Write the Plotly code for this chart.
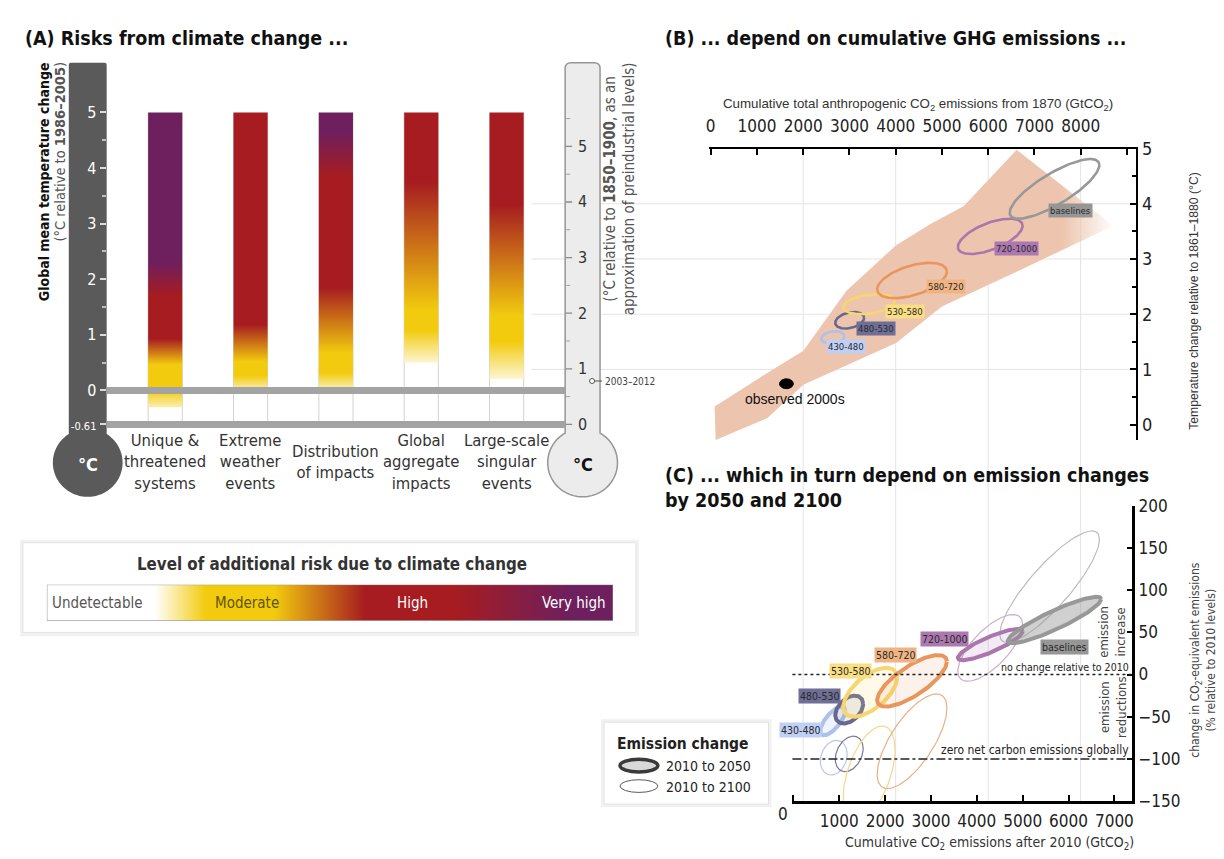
import numpy as np
import plotly.graph_objects as go

W, H = 1224, 859


def px(v):
    return v / W


def py(v):
    return 1 - v / H


FONT_N = "Liberation Sans Narrow, DejaVu Sans Condensed, Roboto Condensed, Roboto, sans-serif"
FONT_S = "Liberation Sans, Arial, Helvetica, sans-serif"

# ---------------- (A) risk level per reason for concern ----------------
RFC_NAMES = ["Unique &<br>threatened<br>systems", "Extreme<br>weather<br>events",
             "Distribution<br>of impacts", "Global<br>aggregate<br>impacts",
             "Large-scale<br>singular<br>events"]
# temperature (degC relative to 1986-2005) at which each risk level is reached
UNIQUE_TEMPS = [-0.3, 0.15, 0.6, 1.05, 1.8, 2.4, 5.0]
UNIQUE_LEVELS = ["U", "M", "M", "H", "H", "V", "V"]
EXTREME_TEMPS = [0.05, 0.4, 0.65, 1.3, 5.0]
EXTREME_LEVELS = ["U", "M", "M", "H", "H"]
DISTRIB_TEMPS = [0.05, 0.45, 0.8, 1.95, 3.9, 4.7, 5.0]
DISTRIB_LEVELS = ["U", "M", "M", "H", "H", "V", "V"]
GLOBAL_TEMPS = [0.5, 1.2, 1.55, 3.8, 5.0]
GLOBAL_LEVELS = ["U", "M", "M", "H", "H"]
SINGULAR_TEMPS = [0.2, 1.0, 1.45, 3.4, 5.0]
SINGULAR_LEVELS = ["U", "M", "M", "H", "H"]
RFC_TEMPS = [UNIQUE_TEMPS, EXTREME_TEMPS, DISTRIB_TEMPS, GLOBAL_TEMPS, SINGULAR_TEMPS]
RFC_LEVELS = [UNIQUE_LEVELS, EXTREME_LEVELS, DISTRIB_LEVELS, GLOBAL_LEVELS, SINGULAR_LEVELS]
BAR_TOP = 5.0
BASELINE_1986_2005 = 0.0
BASELINE_1850_1900 = -0.61          # preindustrial zero on the 1986-2005 scale
PREIND_TICKS = [0, 1, 2, 3, 4, 5]   # degC relative to 1850-1900
WARMING_2003_2012 = 0.78            # relative to 1850-1900

RISK_NAMES = ["Undetectable", "Moderate", "High", "Very high"]
RISK_SCALE_POS = [0.0, 0.19, 0.28, 0.40, 0.56, 0.72, 0.92, 1.0]
RISK_SCALE_LEVELS = ["U", "U", "M", "M", "H", "H", "V", "V"]
RISK_COLOR = {"U": "rgb(255,255,255)", "M": "rgb(242,203,14)",
              "H": "rgb(166,28,32)", "V": "rgb(110,31,94)"}

# ---------------- (B) cumulative emissions vs warming ----------------
PLUME_X = [86, 1078, 2004, 2931, 4009, 4763, 5474, 6616,
           8707, 6616, 5000, 4009, 2004, 1228, 108]
PLUME_Y = [0.33, 0.86, 1.34, 2.42, 3.25, 3.64, 3.96, 4.98,
           3.60, 2.77, 2.14, 1.48, 0.72, 0.12, -0.28]
OBS_X, OBS_Y = 1638, 0.74

SCENARIOS = ["430-480", "480-530", "530-580", "580-720", "720-1000", "baselines"]
B_CX = [2640, 3006, 3426, 4354, 6045, 7435]
B_CY = [1.58, 1.89, 2.18, 2.61, 3.41, 4.27]
B_RX = [250, 312, 560, 754, 700, 970]
B_RY = [0.11, 0.15, 0.18, 0.32, 0.32, 0.54]
B_RHO = [0.2, 0.3, 0.3, 0.5, 0.6, 0.8]
B_TAG_X = [2931, 3578, 4203, 5086, 6616, 7780]
B_TAG_Y = [1.41, 1.74, 2.04, 2.50, 3.19, 3.87]

# ---------------- (C) emission change by 2050 / 2100 ----------------
C50_CX = [858, 1217, 1674, 2587, 4293, 5695]
C50_CY = [-55, -41.5, -21, -7.5, 35.5, 64.5]
C50_RX = [272, 304, 587, 761, 707, 1020]
C50_RY = [17, 16.5, 29, 30.5, 18.5, 27.5]
C50_RHO = [0.7, 0.4, 0.6, 0.75, 0.85, 0.9]
C100_CX = [880, 1217, 1652, 2587, 4293, 5587]
C100_CY = [-98.5, -94, -117, -79, 31.5, 104]
C100_RX = [293, 304, 565, 761, 707, 1087]
C100_RY = [20.5, 21, 56, 56, 39.5, 66]
C100_RHO = [0.2, 0.3, 0.5, 0.7, 0.7, 0.85]
C_TAG_X = [152, 565, 1239, 2217, 3304, 5913]
C_TAG_Y = [-66, -25, 4.6, 23, 41.5, 33]
NO_CHANGE = 0
ZERO_NET = -100

B_TICKS_X = [0, 1000, 2000, 3000, 4000, 5000, 6000, 7000, 8000, 9000]
B_TICKS_Y = [0, 1, 2, 3, 4, 5]
C_TICKS_X = [0, 1000, 2000, 3000, 4000, 5000, 6000, 7000]
C_TICKS_Y = [-150, -100, -50, 0, 50, 100, 150, 200]

# scenario colours: outline, label tag, thin 2100 outline, 2050 fill
LINE_COL = ["rgb(172,194,236)", "rgb(104,104,142)", "rgb(246,214,110)",
            "rgb(233,150,92)", "rgb(170,118,172)", "rgb(152,152,152)"]
TAG_COL = ["rgb(192,208,244)", "rgb(110,110,150)", "rgb(250,222,132)",
           "rgb(240,180,132)", "rgb(172,120,176)", "rgb(150,150,150)"]
THIN_COL = ["rgb(185,198,236)", "rgb(120,120,150)", "rgb(245,214,140)",
            "rgb(232,176,136)", "rgb(204,172,204)", "rgb(188,188,188)"]
FILL_COL = ["rgba(172,194,236,0.18)", "rgba(104,104,142,0.12)", "rgba(246,214,110,0.15)",
            "rgba(233,150,92,0.12)", "rgba(170,118,172,0.15)", "rgba(150,150,150,0.45)"]
PLUME_COL = "rgb(237,197,174)"
PLUME_COL0 = "rgba(237,197,174,0)"


def ellipse(cx, cy, rx, ry, rho, n=140):
    t = np.linspace(0, 2 * np.pi, n)
    x = cx + rx * np.cos(t)
    y = cy + ry * (rho * np.cos(t) + np.sqrt(1 - rho ** 2) * np.sin(t))
    return x, y


def thermo_path(x_l, x_r, top, cy, r, corner):
    cx = (x_l + x_r) / 2
    half = (x_r - x_l) / 2
    dy = np.sqrt(r ** 2 - half ** 2)
    jy = cy - dy
    seg = [f"M{px(x_l):.5f},{py(jy):.5f}",
           f"L{px(x_l):.5f},{py(top + corner):.5f}",
           f"Q{px(x_l):.5f},{py(top):.5f} {px(x_l + corner):.5f},{py(top):.5f}",
           f"L{px(x_r - corner):.5f},{py(top):.5f}",
           f"Q{px(x_r):.5f},{py(top):.5f} {px(x_r):.5f},{py(top + corner):.5f}",
           f"L{px(x_r):.5f},{py(jy):.5f}"]
    th0 = np.degrees(np.arctan2(-dy, half))
    for th in np.radians(np.linspace(th0, 180 - th0, 90)):
        seg.append(f"L{px(cx + r * np.cos(th)):.5f},{py(cy + r * np.sin(th)):.5f}")
    seg.append("Z")
    return " ".join(seg)


fig = go.Figure()
HW = 0.2  # half bar width in category units

# ---- (A) gradient bars
for i, (temps, levels) in enumerate(zip(RFC_TEMPS, RFC_LEVELS)):
    t0 = temps[0]
    span = BAR_TOP - t0
    cs = [[(t - t0) / span, RISK_COLOR[l]] for t, l in zip(temps, levels)]
    fig.add_trace(go.Scatter(
        x=[i - HW, i + HW, i + HW, i - HW], y=[t0, t0, BAR_TOP, BAR_TOP],
        fill="toself", mode="none",
        fillgradient=dict(type="vertical", colorscale=cs, start=t0, stop=BAR_TOP),
        xaxis="x", yaxis="y", hoverinfo="skip", showlegend=False))

# ---- (A) risk legend gradient
fig.add_trace(go.Scatter(
    x=[0, 1, 1, 0, 0], y=[0, 0, 1, 1, 0], fill="toself", mode="lines",
    line=dict(color="#8a8a8a", width=1),
    fillgradient=dict(type="horizontal",
                      colorscale=[[p, RISK_COLOR[l]] for p, l in zip(RISK_SCALE_POS, RISK_SCALE_LEVELS)],
                      start=0, stop=1),
    xaxis="x4", yaxis="y5", hoverinfo="skip", showlegend=False))

# ---- (B) plume, scenario ranges and observation
fig.add_trace(go.Scatter(
    x=PLUME_X, y=PLUME_Y, fill="toself", mode="none",
    fillgradient=dict(type="horizontal",
                      colorscale=[[0, PLUME_COL], [0.87, PLUME_COL], [1, PLUME_COL0]],
                      start=min(PLUME_X), stop=max(PLUME_X)),
    xaxis="x2", yaxis="y3", hoverinfo="skip", showlegend=False))
for k in range(len(SCENARIOS)):
    ex, ey = ellipse(B_CX[k], B_CY[k], B_RX[k], B_RY[k], B_RHO[k])
    fig.add_trace(go.Scatter(x=ex, y=ey, mode="lines", line=dict(color=LINE_COL[k], width=2.6),
                             xaxis="x2", yaxis="y3", hoverinfo="skip", showlegend=False))
ox, oy = ellipse(OBS_X, OBS_Y, 150, 0.09, 0.0, 60)
fig.add_trace(go.Scatter(x=ox, y=oy, mode="lines", fill="toself", fillcolor="black",
                         line=dict(color="black", width=1), xaxis="x2", yaxis="y3",
                         hoverinfo="skip", showlegend=False))

# ---- (C) 2010-2100 (thin) then 2010-2050 (thick) ranges
for k in range(len(SCENARIOS)):
    ex, ey = ellipse(C100_CX[k], C100_CY[k], C100_RX[k], C100_RY[k], C100_RHO[k])
    fig.add_trace(go.Scatter(x=ex, y=ey, mode="lines", line=dict(color=THIN_COL[k], width=1.2),
                             xaxis="x3", yaxis="y4", hoverinfo="skip", showlegend=False))
for k in range(len(SCENARIOS)):
    ex, ey = ellipse(C50_CX[k], C50_CY[k], C50_RX[k], C50_RY[k], C50_RHO[k])
    fig.add_trace(go.Scatter(x=ex, y=ey, mode="lines", fill="toself", fillcolor=FILL_COL[k],
                             line=dict(color=LINE_COL[k], width=4),
                             xaxis="x3", yaxis="y4", hoverinfo="skip", showlegend=False))

# ---------------- shapes ----------------
shapes = []
# gridlines shared by panels B and C
for v in [1, 2, 3, 4]:
    shapes.append(dict(type="line", xref="paper", yref="y3", x0=px(530), x1=px(1137), y0=v, y1=v,
                       line=dict(color="#e4e4e4", width=1), layer="below"))
for v in [2000, 4000, 6000, 8000]:
    shapes.append(dict(type="line", xref="x2", yref="paper", x0=v, x1=v, y0=py(810), y1=py(141),
                       line=dict(color="#e4e4e4", width=1), layer="below"))
# thermometers
shapes.append(dict(type="path", xref="paper", yref="paper", path=thermo_path(66, 104, 53, 463, 35, 2),
                   fillcolor="rgb(90,90,90)", line=dict(width=0), layer="below"))
shapes.append(dict(type="path", xref="paper", yref="paper", path=thermo_path(564, 599, 53, 463, 35, 6),
                   fillcolor="rgb(236,236,236)", line=dict(color="rgb(150,150,150)", width=1.5),
                   layer="below"))
# column guides
for i in range(len(RFC_NAMES)):
    for e in (-HW, HW):
        shapes.append(dict(type="line", xref="x", yref="y", x0=i + e, x1=i + e,
                           y0=BASELINE_1850_1900, y1=BAR_TOP,
                           line=dict(color="#d2d2d2", width=1), layer="below"))
# baselines of both temperature scales
for v in (BASELINE_1986_2005, BASELINE_1850_1900):
    shapes.append(dict(type="line", xref="x domain", yref="y", x0=0, x1=1, y0=v, y1=v,
                       line=dict(color="rgb(163,163,163)", width=7), layer="above"))
# preindustrial scale inside the right thermometer (major + half-degree ticks)
for v in PREIND_TICKS:
    shapes.append(dict(type="line", xref="paper", yref="y", x0=px(564.5), x1=px(571),
                       y0=v + BASELINE_1850_1900, y1=v + BASELINE_1850_1900,
                       line=dict(color="#8a8a8a", width=1.3)))
    shapes.append(dict(type="line", xref="paper", yref="y", x0=px(564.5), x1=px(569),
                       y0=v + 0.5 + BASELINE_1850_1900, y1=v + 0.5 + BASELINE_1850_1900,
                       line=dict(color="#a0a0a0", width=1)))
# 2003-2012 marker on the preindustrial scale
y0312 = WARMING_2003_2012 + BASELINE_1850_1900
shapes.append(dict(type="line", xref="paper", yref="y", x0=px(593), x1=px(601),
                   y0=y0312, y1=y0312, line=dict(color="#555", width=1)))
shapes.append(dict(type="circle", xref="paper", yref="y", xsizemode="pixel", ysizemode="pixel",
                   xanchor=px(591), yanchor=y0312, x0=-2.5, x1=2.5, y0=-2.5, y1=2.5,
                   line=dict(color="#555", width=1), fillcolor="white"))
# risk legend box
shapes.append(dict(type="rect", xref="paper", yref="paper", x0=px(17), x1=px(638), y0=py(641), y1=py(542),
                   fillcolor="#f1f1f1", line=dict(width=0), layer="below"))
shapes.append(dict(type="rect", xref="paper", yref="paper", x0=px(20), x1=px(635), y0=py(637), y1=py(545),
                   fillcolor="white", line=dict(color="#e2e2e2", width=1), layer="below"))
# emission change legend box
shapes.append(dict(type="rect", xref="paper", yref="paper", x0=px(600), x1=px(771), y0=py(816), y1=py(726),
                   fillcolor="#f1f1f1", line=dict(width=0), layer="below"))
shapes.append(dict(type="rect", xref="paper", yref="paper", x0=px(603), x1=px(768), y0=py(813), y1=py(729),
                   fillcolor="white", line=dict(color="#e2e2e2", width=1), layer="below"))
shapes.append(dict(type="circle", xref="paper", yref="paper", x0=px(619), x1=px(657), y0=py(780), y1=py(767),
                   fillcolor="#d9d9d9", line=dict(color="#3a3a3a", width=3.5)))
shapes.append(dict(type="circle", xref="paper", yref="paper", x0=px(619), x1=px(657), y0=py(801), y1=py(788),
                   line=dict(color="#5a5a5a", width=1)))
# reference levels in panel C
shapes.append(dict(type="line", xref="x3 domain", yref="y4", x0=0, x1=1, y0=NO_CHANGE, y1=NO_CHANGE,
                   line=dict(color="#222", width=1.5, dash="dot")))
shapes.append(dict(type="line", xref="x3 domain", yref="y4", x0=0, x1=1, y0=ZERO_NET, y1=ZERO_NET,
                   line=dict(color="#222", width=1.3, dash="dashdot")))

# ---------------- annotations ----------------
ann = []


def note(text, x, y, size, color="#222", family=FONT_N, xanchor="center", yanchor="middle",
         angle=0, xref="paper", yref="paper", **kw):
    ann.append(dict(text=text, x=x, y=y, xref=xref, yref=yref, showarrow=False,
                    font=dict(size=size, color=color, family=family), xanchor=xanchor,
                    yanchor=yanchor, textangle=angle, **kw))


note("<b>(A) Risks from climate change ...</b>", px(20), py(28), 19.5, "#111", xanchor="left")
note("<b>(B) ... depend on cumulative GHG emissions ...</b>", px(662), py(28), 19.5, "#111", xanchor="left")
note("<b>(C) ... which in turn depend on emission changes<br>by 2050 and 2100</b>", px(662), py(489), 19.5,
     "#111", xanchor="left", align="left")

note("<b>Global mean temperature change</b>", px(41), py(50), 14, "#111", angle=-90, yanchor="top")
note("(°C relative to <b>1986–2005</b>)", px(57), py(50), 14.5, "#555", angle=-90, yanchor="top")
note("(°C relative to <b>1850–1900</b>, as an<br>approximation of preindustrial levels)",
     px(619), py(50), 15, "#555", angle=-90, yanchor="top")
note("<b>°C</b>", px(85), py(465), 18, "white")
note("<b>°C</b>", px(581.5), py(465), 18, "#111")
for v in PREIND_TICKS:
    note(str(v), px(581.5), v + BASELINE_1850_1900, 16, "#333", yref="y", borderpad=0)
note("2003–2012", px(602), y0312, 10, "#444", xanchor="left", yref="y")
for i, name in enumerate(RFC_NAMES):
    note(name, i, py(462), 16.5, "#333", xref="x")

note("<b>Level of additional risk due to climate change</b>", px(330), py(567), 16.8, "#333")
note(RISK_NAMES[0], 0.006, 0.5, 15, "#555", xanchor="left", xref="x4", yref="y5")
note(RISK_NAMES[1], 0.354, 0.5, 15, "rgb(98,84,0)", xref="x4", yref="y5")
note(RISK_NAMES[2], 0.646, 0.5, 15, "white", xref="x4", yref="y5")
note(RISK_NAMES[3], 0.992, 0.5, 15, "white", xanchor="right", xref="x4", yref="y5")

note("Cumulative total anthropogenic CO<sub>2</sub> emissions from 1870 (GtCO<sub>2</sub>)",
     px(918), py(96), 13.3, "#333", family=FONT_S)
note("Temperature change relative to 1861–1880 (°C)", px(1195), py(297), 12.2, "#333",
     family=FONT_S, angle=-90)
note("observed 2000s", OBS_X, OBS_Y, 14, "#111", family=FONT_S, xref="x2", yref="y3",
     xshift=9, yshift=-15)
for k, name in enumerate(SCENARIOS):
    note(name, B_TAG_X[k], B_TAG_Y[k], 9.5, "#2a2a2a", xref="x2", yref="y3",
         bgcolor=TAG_COL[k], borderpad=1)
    note(name, C_TAG_X[k], C_TAG_Y[k], 10.5, "#2a2a2a", xref="x3", yref="y4",
         bgcolor=TAG_COL[k], borderpad=1)

note("no change relative to 2010", 0.995, NO_CHANGE, 10.5, "#222", xanchor="right", yanchor="bottom",
     xref="x3 domain", yref="y4")
note("zero net carbon emissions globally", 0.995, ZERO_NET, 12, "#222", xanchor="right",
     yanchor="bottom", xref="x3 domain", yref="y4")
note("emission<br>increase", px(1113), py(636), 13, "#444", angle=-90)
note("emission<br>reductions", px(1113), py(714), 13, "#444", angle=-90)
note("change in CO<sub>2</sub>-equivalent emissions<br>(% relative to 2010 levels)", px(1204), py(665), 12,
     "#444", angle=-90)
note("Cumulative CO<sub>2</sub> emissions after 2010 (GtCO<sub>2</sub>)", px(990), py(842), 14, "#333",
     yanchor="top")
note("0", px(783), py(823), 17, "#222")

note("<b>Emission change</b>", px(682), py(751), 15.5, "#222")
note("2010 to 2050", px(663), py(774), 14, "#222", xanchor="left")
note("2010 to 2100", px(663), py(795), 14, "#222", xanchor="left")

# ---------------- axes ----------------
hidden = dict(visible=False, fixedrange=True)
fig.update_layout(
    width=W, height=H, margin=dict(l=0, r=0, t=0, b=0),
    paper_bgcolor="white", plot_bgcolor="rgba(0,0,0,0)", showlegend=False,
    font=dict(family=FONT_N, color="#222"),
    shapes=shapes, annotations=ann,
    xaxis=dict(domain=[px(104), px(564)], range=[-0.6860, 4.6860], visible=False),
    yaxis=dict(domain=[py(430), py(55)], range=[-0.72, 5.86], anchor="x", side="left",
               tickvals=[BASELINE_1850_1900, 0, 1, 2, 3, 4, 5],
               ticktext=['<span style="font-size:11px">-0.61</span>', "0", "1", "2", "3", "4", "5"],
               ticks="outside", ticklen=6, tickwidth=1.5, tickcolor="#dcdcdc",
               tickfont=dict(size=16, color="white"),
               minor=dict(tickvals=[0.5, 1.5, 2.5, 3.5, 4.5], ticks="outside", ticklen=4,
                          tickcolor="#bdbdbd"),
               showgrid=False, zeroline=False, showline=False),
    xaxis2=dict(domain=[px(708), px(1137)], range=[-43, 9203], anchor="y3", side="top",
                tickvals=B_TICKS_X, ticktext=[str(v) if v < 9000 else "" for v in B_TICKS_X],
                ticks="inside", ticklen=6, tickwidth=2, tickcolor="black",
                showline=True, linecolor="black", linewidth=2,
                tickfont=dict(size=17, color="#222"), ticklabelstandoff=8,
                showgrid=False, zeroline=False),
    yaxis3=dict(domain=[py(440), py(141)], range=[-0.283, 5], anchor="x2", side="right",
                tickvals=B_TICKS_Y, ticks="inside", ticklen=6, tickwidth=2, tickcolor="black",
                minor=dict(tickvals=[0.5, 1.5, 2.5, 3.5, 4.5], ticks="inside", ticklen=4,
                           tickwidth=1.5, tickcolor="black"),
                showline=True, linecolor="black", linewidth=2,
                tickfont=dict(size=18, color="#222"), showgrid=False, zeroline=False),
    xaxis3=dict(domain=[px(792), px(1133)], range=[-22, 7391], anchor="y4", side="bottom",
                tickvals=C_TICKS_X, ticktext=[str(v) if v > 0 else "" for v in C_TICKS_X],
                ticks="inside", ticklen=6, tickwidth=2, tickcolor="black",
                showline=True, linecolor="black", linewidth=2.5,
                tickfont=dict(size=17, color="#222"), ticklabelstandoff=3,
                showgrid=False, zeroline=False),
    yaxis4=dict(domain=[py(810), py(507)], range=[-150, 200], anchor="x3", side="right",
                tickvals=C_TICKS_Y, ticktext=[("−" + str(-v)) if v < 0 else str(v) for v in C_TICKS_Y],
                ticks="inside", ticklen=6, tickwidth=2, tickcolor="black",
                showline=True, linecolor="black", linewidth=2.5,
                tickfont=dict(size=17, color="#222"), showgrid=False, zeroline=False),
    xaxis4=dict(domain=[px(44), px(612)], range=[0, 1], anchor="y5", **hidden),
    yaxis5=dict(domain=[py(625), py(588)], range=[0, 1], anchor="x4", **hidden),
)

fig.write_html("out.html")
